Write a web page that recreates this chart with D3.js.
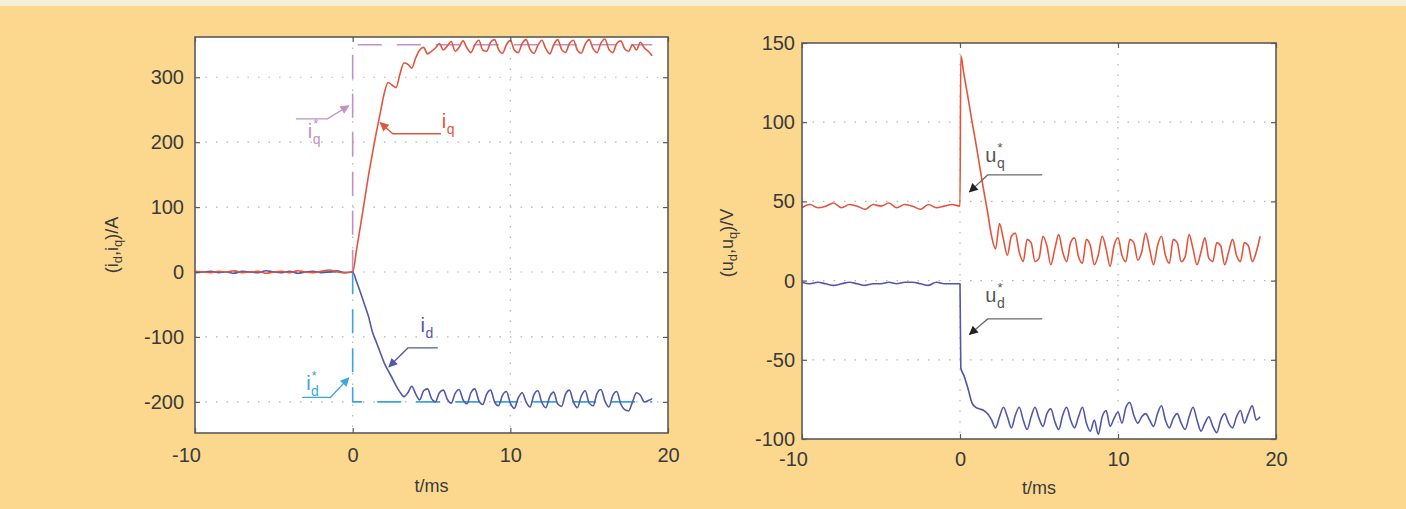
<!DOCTYPE html>
<html>
<head>
<meta charset="utf-8">
<script src="https://cdn.jsdelivr.net/npm/d3@7"></script>
<style>
  html, body { margin: 0; padding: 0; background: #fcd88f; }
  svg { display: block; font-family: "Liberation Sans", Arial, sans-serif; }
</style>
</head>
<body>
<script>
// time samples (ms)
const tPre = [-10, -9.5, -9, -8.5, -8, -7.5, -7, -6.5, -6, -5.5, -5, -4.5, -4, -3.5, -3, -2.5, -2, -1.5, -1, -0.5, 0];
const tJump = [0.05];
const tPost = [
  0.25, 0.5, 0.75, 1, 1.25, 1.5, 1.75, 2, 2.25, 2.5, 2.75, 3, 3.25, 3.5, 3.75, 4,
  4.25, 4.5, 4.75, 5, 5.25, 5.5, 5.75, 6, 6.25, 6.5, 6.75, 7, 7.25, 7.5, 7.75, 8,
  8.25, 8.5, 8.75, 9, 9.25, 9.5, 9.75, 10, 10.25, 10.5, 10.75, 11, 11.25, 11.5, 11.75, 12,
  12.25, 12.5, 12.75, 13, 13.25, 13.5, 13.75, 14, 14.25, 14.5, 14.75, 15, 15.25, 15.5, 15.75, 16,
  16.25, 16.5, 16.75, 17, 17.25, 17.5, 17.75, 18, 18.25, 18.5, 18.75, 19
];

// left: currents (A)
const iqPre = [1, 0, -1, 1, 0, 2, -1, 0, 1, -2, 0, 1, -1, 2, 0, -1, 1, 3, 0, -1, 0];
const iqPost = [
  35, 72, 110, 148, 182, 215, 245, 275, 292, 288, 284, 305, 322, 320, 314, 330,
  342, 346, 336, 340, 345, 352, 342, 348, 355, 340, 346, 356, 345, 338, 350, 357,
  342, 340, 354, 358, 343, 337, 350, 357, 342, 338, 352, 358, 343, 337, 349, 357,
  344, 336, 350, 358, 343, 338, 352, 357, 342, 337, 351, 358, 344, 338, 353, 359,
  343, 338, 352, 356, 344, 340, 350, 342, 354, 345, 340, 333
];
const idPre = [-1, 0, 1, -1, 0, -2, 1, 0, -1, 2, 0, -1, 1, -2, 0, 1, -1, 0, 2, -1, 0];
const idPost = [
  -15, -32, -50, -68, -92, -108, -124, -140, -152, -163, -175, -185, -192, -186, -176, -188,
  -197, -183, -180, -195, -200, -186, -182, -196, -202, -187, -181, -197, -203, -186, -180, -198,
  -204, -188, -182, -200, -206, -190, -184, -202, -210, -194, -186, -200, -208, -189, -183, -201,
  -209, -192, -185, -203, -207, -188, -182, -200, -209, -191, -183, -202, -206, -187, -181, -199,
  -208, -190, -184, -203, -212, -214, -200, -186, -190, -200, -198, -195
];
const tRef = [-10, 0, 0, 19];
const iqRef = [0, 0, 350, 350];
const idRef = [0, 0, -200, -200];

// right: voltages (V)
const uqPre = [46, 48, 46, 47, 49, 46, 48, 47, 45, 48, 47, 49, 46, 48, 47, 45, 48, 46, 47, 48, 47];
const uqJump = [142];
const uqPost = [
  130, 116, 101, 87, 72, 57, 43, 28, 20, 36, 26, 16, 28, 30, 18, 12,
  26, 24, 12, 14, 28, 22, 10, 20, 29, 18, 12, 24, 27, 15, 11, 26,
  22, 10, 16, 28, 20, 9, 22, 27, 16, 12, 26, 24, 13, 18, 30, 20,
  10, 22, 28, 16, 11, 26, 24, 12, 15, 29, 20, 10, 18, 27, 14, 12,
  24, 22, 10, 18, 26, 16, 12, 24, 22, 12, 18, 28
];
const udPre = [-1, -2, -1, -2, -3, -2, -1, -2, -3, -2, -2, -1, -2, -1, -1, -2, -3, -1, -2, -2, -2];
const udJump = [-55];
const udPost = [
  -60, -68, -77, -80, -81, -82, -84, -88, -93, -86, -80, -86, -93, -85, -80, -88,
  -94, -86, -80, -87, -92, -84, -81, -89, -94, -85, -80, -88, -93, -86, -80, -90,
  -95, -88, -97, -86, -82, -92, -87, -83, -90, -80, -77, -85, -90, -86, -84, -88,
  -92, -84, -79, -88, -93, -87, -84, -90, -94, -86, -80, -88, -95, -90, -86, -92,
  -96, -88, -84, -90, -93, -86, -82, -90, -84, -79, -88, -86
];

const xTicks = [-10, 0, 10, 20];
const iTicks = [-200, -100, 0, 100, 200, 300];
const uTicks = [-100, -50, 0, 50, 100, 150];

const W = 1406, H = 509;
const col = {
  bg: "#fcd88f", strip: "#f4efd8", frame: "#5a5a5a", text: "#3a3a3a",
  grid: "#b5b5b5", red: "#e2553c", blue: "#5257a6", lilac: "#c38fc4", sky: "#3aa6dc",
  grey: "#6a6a6a"
};

const svg = d3.select("body").append("svg").attr("width", W).attr("height", H);
svg.append("rect").attr("width", W).attr("height", H).attr("fill", col.bg);
svg.append("rect").attr("width", W).attr("height", 6).attr("fill", col.strip);

const defs = svg.append("defs");
function marker(id, c) {
  defs.append("marker").attr("id", id)
    .attr("viewBox", "0 0 10 10").attr("refX", 9).attr("refY", 5)
    .attr("markerWidth", 11).attr("markerHeight", 9)
    .attr("markerUnits", "userSpaceOnUse").attr("orient", "auto")
    .append("path").attr("d", "M0,0L10,5L0,10z").attr("fill", c);
}
marker("mLilac", col.lilac);
marker("mRed", col.red);
marker("mBlue", col.blue);
marker("mSky", col.sky);
marker("mBlack", "#222");

function zip(ts, vs) { return ts.map((t, i) => [t, vs[i]]); }

function panel(o) {
  const x = d3.scaleLinear().domain([-10, 20]).range(o.xr);
  const y = d3.scaleLinear().domain(o.yd).range(o.yr);
  const g = svg.append("g");
  const [x0, x1] = o.xr, [y1, y0] = o.yr;

  g.append("rect").attr("x", x0).attr("y", y0).attr("width", x1 - x0).attr("height", y1 - y0)
    .attr("fill", "#fff");

  // dotted grid
  g.append("g").selectAll("line").data(xTicks.slice(1, -1)).join("line")
    .attr("x1", d => x(d)).attr("x2", d => x(d)).attr("y1", y0).attr("y2", y1)
    .attr("stroke", col.grid).attr("stroke-dasharray", "1.5,9").attr("stroke-width", 1.2);
  g.append("g").selectAll("line").data(o.yt.filter(v => y(v) > y0 + 2 && y(v) < y1 - 2)).join("line")
    .attr("x1", x0).attr("x2", x1).attr("y1", d => y(d)).attr("y2", d => y(d))
    .attr("stroke", col.grid).attr("stroke-dasharray", "1.5,9").attr("stroke-width", 1.2);

  o.series.forEach(s => {
    const line = d3.line().x(d => x(d[0])).y(d => y(d[1]))
      .curve(s.dash ? d3.curveLinear : d3.curveMonotoneX);
    g.append("path").attr("d", line(s.pts)).attr("fill", "none")
      .attr("stroke", s.c).attr("stroke-width", s.w || 1.6)
      .attr("stroke-dasharray", s.dash || null)
      .attr("stroke-linejoin", "round");
  });

  // axes: ticks inward on all sides (MATLAB box)
  const fs = 20;
  const fmt = d => String(d);
  const ax = g.append("g").attr("transform", `translate(0,${y1})`)
    .call(d3.axisBottom(x).tickValues(xTicks).tickSizeInner(-5).tickSizeOuter(0)
      .tickPadding(o.xpad).tickFormat(fmt));
  ax.selectAll("text").attr("dx", d => d < 0 ? -9 : 0);
  g.append("g").attr("transform", `translate(0,${y0})`)
    .call(d3.axisTop(x).tickValues(xTicks).tickSizeInner(-5).tickSizeOuter(0).tickFormat(""));
  g.append("g").attr("transform", `translate(${x0},0)`)
    .call(d3.axisLeft(y).tickValues(o.yt).tickSizeInner(-5).tickSizeOuter(0)
      .tickPadding(o.ypad).tickFormat(fmt));
  g.append("g").attr("transform", `translate(${x1},0)`)
    .call(d3.axisRight(y).tickValues(o.yt).tickSizeInner(-5).tickSizeOuter(0).tickFormat(""));
  g.selectAll(".domain").remove();
  g.selectAll(".tick line").attr("stroke", col.frame).attr("stroke-width", 1.2);
  g.selectAll(".tick text").attr("font-size", fs).attr("fill", col.text)
    .attr("font-family", "Liberation Sans, Arial, sans-serif");

  g.append("rect").attr("x", x0).attr("y", y0).attr("width", x1 - x0).attr("height", y1 - y0)
    .attr("fill", "none").attr("stroke", col.frame).attr("stroke-width", 1.6);

  // axis labels
  g.append("text").attr("x", (x0 + x1) / 2).attr("y", o.xlabY).attr("text-anchor", "middle")
    .attr("font-size", 18).attr("fill", col.text).text("t/ms");
  const yl = g.append("text").attr("transform", `translate(${o.ylabX},${o.ylabY}) rotate(-90)`)
    .attr("text-anchor", "middle").attr("font-size", 18).attr("fill", col.text);
  const v = o.ylabVar;
  yl.append("tspan").text("(" + v);
  yl.append("tspan").text("d").attr("font-size", 13).attr("dy", 4);
  yl.append("tspan").text("," + v).attr("dy", -4);
  yl.append("tspan").text("q").attr("font-size", 13).attr("dy", 4);
  yl.append("tspan").text(")/" + o.ylabUnit).attr("dy", -4);

  // annotations, in data coordinates
  o.notes.forEach(n => {
    const p = d3.path();
    p.moveTo(x(n.end[0]), y(n.end[1]));
    p.lineTo(x(n.elbow[0]), y(n.elbow[1]));
    p.lineTo(x(n.tip[0]), y(n.tip[1]));
    g.append("path").attr("d", p.toString()).attr("fill", "none")
      .attr("stroke", n.lc).attr("stroke-width", 1.3).attr("marker-end", `url(#${n.m})`);
    const tx = x(n.txt[0]), ty = y(n.txt[1]);
    const b = g.append("text").attr("x", tx).attr("y", ty).attr("font-size", 20)
      .attr("fill", n.tc).text(n.base);
    const bw = b.node().getComputedTextLength();
    g.append("text").attr("x", tx + bw + 0.5).attr("y", ty + 6).attr("font-size", 14)
      .attr("fill", n.tc).text(n.sub);
    if (n.star) {
      g.append("text").attr("x", tx + bw + 1).attr("y", ty - 10).attr("font-size", 13)
        .attr("fill", n.tc).text("*");
    }
  });
}

panel({
  xr: [195, 668], yd: [-248, 362], yr: [433, 37], yt: iTicks,
  xpad: 15, ypad: 11, xlabY: 492, ylabX: 118, ylabY: 245,
  ylabVar: "i", ylabUnit: "A",
  series: [
    { pts: zip(tRef, iqRef), c: col.lilac, dash: "24,15", w: 1.6 },
    { pts: zip(tRef, idRef), c: col.sky, dash: "24,15", w: 1.6 },
    { pts: zip(tPre.concat(tPost), idPre.concat(idPost)), c: col.blue },
    { pts: zip(tPre.concat(tPost), iqPre.concat(iqPost)), c: col.red }
  ],
  notes: [
    { tip: [-0.25, 256], elbow: [-1.6, 236], end: [-3.6, 236], txt: [-2.85, 206],
      base: "i", sub: "q", star: true, lc: col.lilac, tc: col.lilac, m: "mLilac" },
    { tip: [1.75, 230], elbow: [2.55, 213], end: [5.6, 213], txt: [5.65, 222],
      base: "i", sub: "q", star: false, lc: col.red, tc: col.red, m: "mRed" },
    { tip: [2.3, -146], elbow: [3.5, -117], end: [5.4, -117], txt: [4.3, -92],
      base: "i", sub: "d", star: false, lc: col.blue, tc: col.blue, m: "mBlue" },
    { tip: [-0.25, -163], elbow: [-1.4, -193], end: [-3.2, -193], txt: [-2.95, -182],
      base: "i", sub: "d", star: true, lc: col.sky, tc: col.sky, m: "mSky" }
  ]
});

panel({
  xr: [802, 1276], yd: [-100, 150], yr: [439, 43], yt: uTicks,
  xpad: 13, ypad: 7, xlabY: 494, ylabX: 733, ylabY: 243,
  ylabVar: "u", ylabUnit: "V",
  series: [
    { pts: zip(tPre.concat(tJump, tPost), uqPre.concat(uqJump, uqPost)), c: col.red },
    { pts: zip(tPre.concat(tJump, tPost), udPre.concat(udJump, udPost)), c: col.blue }
  ],
  notes: [
    { tip: [0.6, 56], elbow: [1.75, 66.7], end: [5.2, 66.7], txt: [1.6, 75],
      base: "u", sub: "q", star: true, lc: col.grey, tc: "#555", m: "mBlack" },
    { tip: [0.6, -34], elbow: [1.75, -24.2], end: [5.2, -24.2], txt: [1.6, -13.5],
      base: "u", sub: "d", star: true, lc: col.grey, tc: "#555", m: "mBlack" }
  ]
});
</script>
</body>
</html>
